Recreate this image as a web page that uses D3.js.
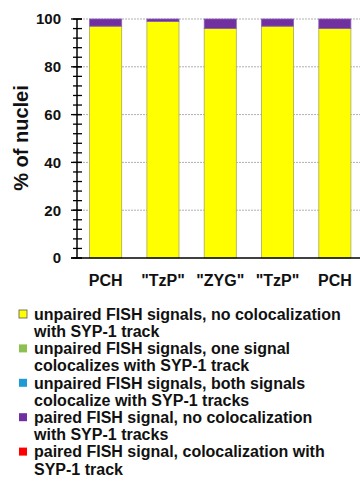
<!DOCTYPE html>
<html>
<head>
<meta charset="utf-8">
<script src="https://cdn.jsdelivr.net/npm/d3@7"></script>
<style>
  html, body { margin: 0; padding: 0; background: #fff; }
  svg { display: block; font-family: "Liberation Sans", Arial, sans-serif; }
</style>
</head>
<body>
<svg id="chart" width="360" height="479"></svg>
<script>
// Stage categories along the x axis
const categories = ["PCH", "\"TzP\"", "\"ZYG\"", "\"TzP\"", "PCH"];

// Percent of nuclei in each class, one value per category
const unpairedNoColoc   = [97, 99, 96, 97, 96];
const unpairedOneColoc  = [0, 0, 0, 0, 0];
const unpairedBothColoc = [0, 0, 0, 0, 0];
const pairedNoColoc     = [3, 1, 4, 3, 4];
const pairedColoc       = [0, 0, 0, 0, 0];

const yTicks = [0, 20, 40, 60, 80, 100];

const seriesNames = [
  "unpaired FISH signals, no colocalization with SYP-1 track",
  "unpaired FISH signals, one signal colocalizes with SYP-1 track",
  "unpaired FISH signals, both signals colocalize with SYP-1 tracks",
  "paired FISH signal, no colocalization with SYP-1 tracks",
  "paired FISH signal, colocalization with SYP-1 track"
];
const legendLines = [
  ["unpaired FISH signals, no colocalization", "with SYP-1 track"],
  ["unpaired FISH signals, one signal", "colocalizes with SYP-1 track"],
  ["unpaired FISH signals, both signals", "colocalize with SYP-1 tracks"],
  ["paired FISH signal, no colocalization", "with SYP-1 tracks"],
  ["paired FISH signal, colocalization with", "SYP-1 track"]
];
const seriesColors = ["#ffff00", "#8cc152", "#1e9ad6", "#7030a0", "#ff0000"];
const seriesStroke = ["#a8a860", "#6c9a40", "#1878a8", "#8a60b8", "#c00000"];

const seriesValues = [unpairedNoColoc, unpairedOneColoc, unpairedBothColoc, pairedNoColoc, pairedColoc];

const rows = categories.map((c, i) => {
  const r = { idx: i, cat: c };
  seriesNames.forEach((n, k) => { r[n] = seriesValues[k][i]; });
  return r;
});

const svg = d3.select("#chart");

const x = d3.scaleBand()
  .domain(d3.range(categories.length))
  .range([77, 363.5])
  .paddingInner(0.44)
  .paddingOuter(0.22);

const y = d3.scaleLinear().domain([0, 100]).range([258, 19]);

const axisX = 77;

// Dashed horizontal gridlines
svg.append("g")
  .selectAll("line")
  .data(yTicks.filter(d => d > 0))
  .join("line")
  .attr("x1", axisX).attr("x2", 360)
  .attr("y1", d => y(d)).attr("y2", d => y(d))
  .attr("stroke", "#b0b0b0")
  .attr("stroke-width", 1)
  .attr("stroke-dasharray", "2,1");

// Stacked bars
const stack = d3.stack().keys(seriesNames);
const stacked = stack(rows);

svg.append("g")
  .selectAll("g")
  .data(stacked)
  .join("g")
  .attr("fill", (d, k) => seriesColors[k])
  .attr("stroke", (d, k) => seriesStroke[k])
  .attr("stroke-width", 0.8)
  .selectAll("rect")
  .data(d => d.filter(p => p[1] - p[0] > 0))
  .join("rect")
  .attr("x", d => x(d.data.idx))
  .attr("width", x.bandwidth())
  .attr("y", d => y(d[1]))
  .attr("height", d => y(d[0]) - y(d[1]));

// Y axis with major and minor ticks crossing the line
const yAxisG = svg.append("g").attr("transform", `translate(${axisX},0)`);
yAxisG.append("line")
  .attr("x1", 0).attr("x2", 0)
  .attr("y1", y(100)).attr("y2", y(0))
  .attr("stroke", "#000").attr("stroke-width", 1.5);
yAxisG.selectAll("line.minor")
  .data(d3.range(0, 101, 4))
  .join("line")
  .attr("class", "minor")
  .attr("x1", -4).attr("x2", 5)
  .attr("y1", d => y(d)).attr("y2", d => y(d))
  .attr("stroke", "#000").attr("stroke-width", 1.3);
yAxisG.selectAll("line.major")
  .data(yTicks)
  .join("line")
  .attr("class", "major")
  .attr("x1", -6).attr("x2", 5)
  .attr("y1", d => y(d)).attr("y2", d => y(d))
  .attr("stroke", "#000").attr("stroke-width", 1.3);
yAxisG.selectAll("text")
  .data(yTicks)
  .join("text")
  .attr("x", -16)
  .attr("y", d => y(d))
  .attr("dy", "0.36em")
  .attr("text-anchor", "end")
  .attr("font-size", 15)
  .attr("font-weight", "bold")
  .attr("fill", "#111")
  .text(d => d);

// X baseline
svg.append("line")
  .attr("x1", axisX - 6).attr("x2", 360)
  .attr("y1", y(0)).attr("y2", y(0))
  .attr("stroke", "#000").attr("stroke-width", 1.5);

// Category labels
svg.append("g")
  .selectAll("text")
  .data(rows)
  .join("text")
  .attr("x", d => x(d.idx) + x.bandwidth() / 2)
  .attr("y", 286)
  .attr("text-anchor", "middle")
  .attr("font-size", 16)
  .attr("font-weight", "bold")
  .attr("fill", "#111")
  .text(d => d.cat);

// Y axis title
svg.append("text")
  .attr("transform", `translate(28,138) rotate(-90)`)
  .attr("text-anchor", "middle")
  .attr("font-size", 20)
  .attr("font-weight", "bold")
  .attr("fill", "#111")
  .text("% of nuclei");

// Legend
const legend = svg.append("g");
const lineH = 17.2;
const legendTop = 314;
legendLines.forEach((lines, k) => {
  const cy = legendTop + k * 2 * lineH;
  legend.append("rect")
    .attr("x", 19).attr("y", cy - 4)
    .attr("width", 8).attr("height", 8)
    .attr("fill", seriesColors[k])
    .attr("stroke", k === 0 ? "#555" : "none")
    .attr("stroke-width", 0.8);
  lines.forEach((t, j) => {
    legend.append("text")
      .attr("x", 34)
      .attr("y", cy + j * lineH)
      .attr("dy", "0.36em")
      .attr("font-size", 16)
      .attr("font-weight", "bold")
      .attr("fill", "#111")
      .text(t);
  });
});
</script>
</body>
</html>
